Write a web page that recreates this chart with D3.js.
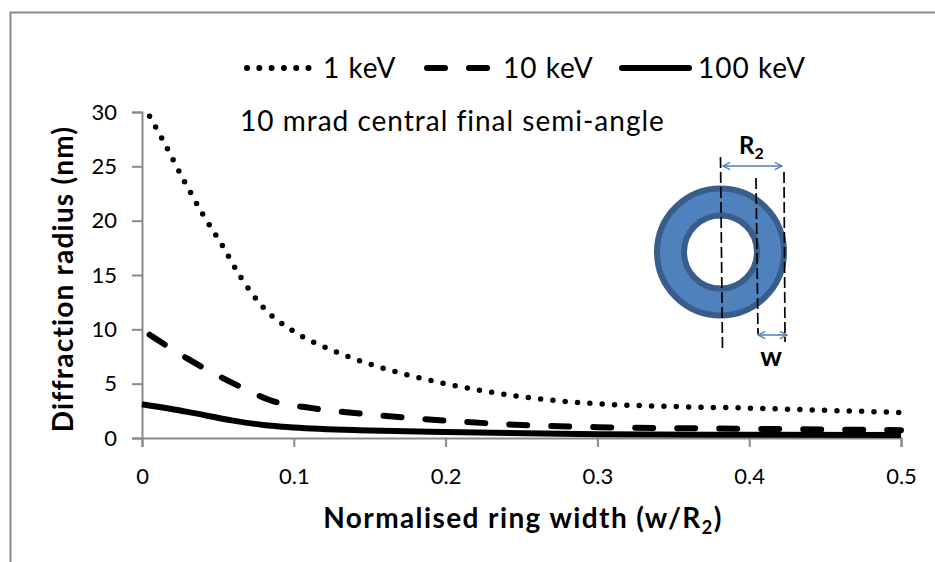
<!DOCTYPE html>
<html>
<head>
<meta charset="utf-8">
<script src="https://cdn.jsdelivr.net/npm/d3@7"></script>
<style>
  html, body { margin: 0; padding: 0; background: #fff; }
  svg { display: block; }
  text { font-family: Lato, "Open Sans", sans-serif; fill: #000; }
</style>
</head>
<body>
<script>
// values
var xTicks = [0, 0.1, 0.2, 0.3, 0.4, 0.5];
var yTicks = [0, 5, 10, 15, 20, 25, 30];

var x1keV = [0.005, 0.013, 0.028, 0.04, 0.053, 0.065, 0.08, 0.1, 0.125, 0.15, 0.175, 0.2, 0.25, 0.3, 0.35, 0.4, 0.45, 0.5];
var y1keV = [29.6, 27.6, 23.6, 20.6, 17.7, 14.8, 12, 9.8, 8.1, 6.8, 5.8, 5, 3.8, 3.15, 2.9, 2.75, 2.55, 2.35];

var x10keV = [0.005, 0.03, 0.065, 0.084, 0.112, 0.14, 0.167, 0.2, 0.25, 0.3, 0.4, 0.5];
var y10keV = [9.5, 7.3, 4.7, 3.5, 2.75, 2.3, 1.95, 1.6, 1.2, 1, 0.85, 0.72];

var x100keV = [0, 0.03, 0.06, 0.08, 0.1, 0.15, 0.2, 0.3, 0.4, 0.5];
var y100keV = [3.1, 2.4, 1.6, 1.2, 0.97, 0.7, 0.55, 0.35, 0.3, 0.28];

var margin = {top: 112, right: 34, bottom: 124, left: 142},
    width = 935 - margin.left - margin.right,
    height = 562 - margin.top - margin.bottom;

var x = d3.scaleLinear().domain([0, 0.5]).range([0, width]);
var y = d3.scaleLinear().domain([0, 30]).range([height, 0]);

var root = d3.select("body").append("svg")
    .attr("width", 935)
    .attr("height", 562);

// chart frame, only top and left edges are in the crop
root.append("path")
    .attr("d", "M10.5,562V12.5H935")
    .attr("fill", "none")
    .attr("stroke", "#8a8a8a")
    .attr("stroke-width", 2);

var svg = root.append("g")
    .attr("transform", "translate(" + margin.left + "," + margin.top + ")");

// axes
svg.append("g")
    .attr("transform", "translate(0," + height + ")")
    .call(d3.axisBottom(x).tickValues(xTicks).tickFormat(d3.format("~g")).tickSize(9).tickPadding(21));
svg.append("g")
    .call(d3.axisLeft(y).tickValues(yTicks).tickSize(10).tickPadding(15));

svg.selectAll(".domain, .tick line")
    .attr("stroke", "#8a8a8a")
    .attr("stroke-width", 2);
svg.selectAll(".tick text")
    .attr("font-family", "Lato")
    .attr("font-size", 22);

// series
var line = d3.line().curve(d3.curveMonotoneX)
    .x(function(d) { return x(d[0]); })
    .y(function(d) { return y(d[1]); });

var series = [
    {xs: x1keV, ys: y1keV, dash: "0 12.36", w: 5.5},
    {xs: x10keV, ys: y10keV, dash: "18 24", w: 6},
    {xs: x100keV, ys: y100keV, dash: null, w: 6}
];

series.forEach(function(s) {
    svg.append("path")
        .datum(d3.zip(s.xs, s.ys))
        .attr("d", line)
        .attr("fill", "none")
        .attr("stroke", "#000")
        .attr("stroke-width", s.w)
        .attr("stroke-linecap", s.dash ? "round" : "butt")
        .attr("stroke-dasharray", s.dash);
});

// legend
var legend = [
    {label: "1 keV", x1: 247, x2: 311, tx: 323, dash: "0 12.3"},
    {label: "10 keV", x1: 427, x2: 488, tx: 503, dash: "18 24"},
    {label: "100 keV", x1: 622, x2: 689, tx: 698, dash: null}
];
legend.forEach(function(d) {
    root.append("line")
        .attr("x1", d.x1).attr("x2", d.x2)
        .attr("y1", 68).attr("y2", 68)
        .attr("stroke", "#000")
        .attr("stroke-width", 6)
        .attr("stroke-linecap", "round")
        .attr("stroke-dasharray", d.dash);
    root.append("text")
        .attr("x", d.tx).attr("y", 78)
        .attr("font-size", 28)
        .attr("letter-spacing", 1)
        .text(d.label);
});

root.append("text")
    .attr("x", 240).attr("y", 131)
    .attr("font-size", 28)
    .attr("letter-spacing", 1)
    .text("10 mrad central final semi-angle");

// axis titles
root.append("text")
    .attr("transform", "translate(73,279) rotate(-90)")
    .attr("text-anchor", "middle")
    .attr("font-size", 28)
    .attr("font-weight", 700)
    .attr("letter-spacing", 1.2)
    .text("Diffraction radius (nm)");

var xTitle = root.append("text")
    .attr("x", 523).attr("y", 528)
    .attr("text-anchor", "middle")
    .attr("font-size", 28)
    .attr("font-weight", 700)
    .attr("letter-spacing", 1.4);
xTitle.append("tspan").text("Normalised ring width (w/R");
xTitle.append("tspan").attr("font-size", 18).attr("dy", 6).text("2");
xTitle.append("tspan").attr("dy", -6).text(")");

// ring sketch
var defs = root.append("defs");
defs.append("marker")
    .attr("id", "head")
    .attr("viewBox", "0 0 10 10")
    .attr("refX", 9).attr("refY", 5)
    .attr("markerWidth", 9).attr("markerHeight", 9)
    .attr("markerUnits", "userSpaceOnUse")
    .attr("orient", "auto-start-reverse")
    .append("path")
    .attr("d", "M1,1L9,5L1,9")
    .attr("fill", "none")
    .attr("stroke", "#4a7ebb")
    .attr("stroke-width", 1.4);

var ring = root.append("g");
ring.append("path")
    .attr("d", d3.arc()({innerRadius: 36.5, outerRadius: 63.5, startAngle: 0, endAngle: 2 * Math.PI}))
    .attr("transform", "translate(720.5,252)")
    .attr("fill", "#4f81bd")
    .attr("stroke", "#385d8a")
    .attr("stroke-width", 6);

var guides = [[720.5, 157, 722.5, 350], [756, 178, 758, 334], [784, 172, 785, 342]];
guides.forEach(function(g) {
    ring.append("line")
        .attr("x1", g[0]).attr("y1", g[1]).attr("x2", g[2]).attr("y2", g[3])
        .attr("stroke", "#000")
        .attr("stroke-width", 1.7)
        .attr("stroke-dasharray", "11 4");
});

var arrows = [[723, 166, 782, 166], [758, 335, 787, 335]];
arrows.forEach(function(a) {
    ring.append("line")
        .attr("x1", a[0]).attr("y1", a[1]).attr("x2", a[2]).attr("y2", a[3])
        .attr("stroke", "#4a7ebb")
        .attr("stroke-width", 1.5)
        .attr("marker-start", "url(#head)")
        .attr("marker-end", "url(#head)");
});

var r2 = ring.append("text")
    .attr("x", 739).attr("y", 154)
    .attr("font-size", 24)
    .attr("font-weight", 700);
r2.append("tspan").text("R");
r2.append("tspan").attr("font-size", 16).attr("dy", 5).text("2");

ring.append("text")
    .attr("x", 771).attr("y", 366)
    .attr("text-anchor", "middle")
    .attr("font-size", 27)
    .attr("font-weight", 700)
    .text("w");
</script>
</body>
</html>
